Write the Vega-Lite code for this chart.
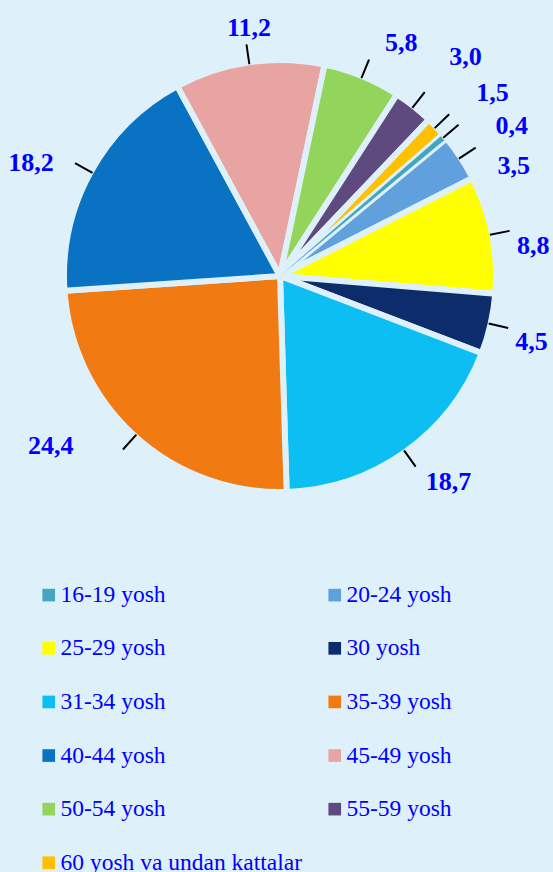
{
  "$schema": "https://vega.github.io/schema/vega-lite/v6.json",
  "width": 546,
  "height": 552,
  "autosize": {"type": "none"},
  "padding": {"left": 7, "top": 0, "right": 0, "bottom": 320},
  "background": "#DEF1FA",
  "config": {
    "view": {"stroke": null},
    "locale": {"number": {"decimal": ",", "thousands": " ", "grouping": [3], "currency": ["", ""]}}
  },
  "data": {
    "values": [
      {"group": "16-19 yosh", "value": 0.4},
      {"group": "20-24 yosh", "value": 3.5},
      {"group": "25-29 yosh", "value": 8.8},
      {"group": "30 yosh", "value": 4.5},
      {"group": "31-34 yosh", "value": 18.7},
      {"group": "35-39 yosh", "value": 24.4},
      {"group": "40-44 yosh", "value": 18.2},
      {"group": "45-49 yosh", "value": 11.2},
      {"group": "50-54 yosh", "value": 5.8},
      {"group": "55-59 yosh", "value": 3.0},
      {"group": "60 yosh va undan kattalar", "value": 1.5}
    ]
  },
  "encoding": {
    "theta": {"field": "value", "type": "quantitative", "stack": true, "scale": {"domain": [0, 100], "range": [0.8552, 7.1384]}},
    "order": {"field": "group", "type": "ordinal", "sort": "ascending"}
  },
  "layer": [
    {
      "mark": {"type": "arc", "radius": 216, "stroke": "#DEF1FA", "strokeWidth": 6},
      "encoding": {
        "color": {
          "field": "group", "type": "nominal",
          "scale": {
            "domain": ["16-19 yosh", "25-29 yosh", "31-34 yosh", "40-44 yosh", "50-54 yosh", "60 yosh va undan kattalar", "20-24 yosh", "30 yosh", "35-39 yosh", "45-49 yosh", "55-59 yosh"],
            "range": ["#45A5BE", "#FFFF00", "#0DBEF2", "#0A72C2", "#93D45A", "#FFC000", "#60A0DC", "#0C2C6B", "#F27A12", "#E8A3A3", "#5E4A7E"]
          },
          "legend": {
            "orient": "none", "legendX": 30, "legendY": 583, "columns": 2, "title": null,
            "symbolType": "square", "symbolSize": 160, "symbolStrokeWidth": 0, "symbolOpacity": 1,
            "labelFont": "Liberation Serif", "labelFontSize": 23.5, "labelColor": "#0000FF",
            "labelOffset": 0, "rowPadding": 28.6, "columnPadding": 21, "labelLimit": 400, "padding": 0
          }
        }
      }
    },
    {
      "mark": {"type": "arc", "radius": 213},
      "encoding": {
        "color": {"field": "group", "type": "nominal", "legend": null},
        "fillOpacity": {"condition": {"test": "datum.group === '16-19 yosh'", "value": 1}, "value": 0}
      }
    },
    {
      "mark": {"type": "arc", "radius": 234, "radius2": 214, "padAngle": 3, "filled": false, "stroke": "#000000", "strokeWidth": 2},
      "encoding": {}
    },
    {"mark": {"type": "text", "radius": 258, "dx": 35, "dy": 17, "font": "Liberation Serif", "fontSize": 26, "fontWeight": "bold", "fill": "#0000FF", "align": "center", "baseline": "middle"}, "encoding": {"text": {"condition": {"test": "datum.group === '16-19 yosh'", "field": "value", "type": "quantitative", "format": ".1f"}, "value": ""}}},
    {"mark": {"type": "text", "radius": 258, "dx": 18, "dy": 31, "font": "Liberation Serif", "fontSize": 26, "fontWeight": "bold", "fill": "#0000FF", "align": "center", "baseline": "middle"}, "encoding": {"text": {"condition": {"test": "datum.group === '20-24 yosh'", "field": "value", "type": "quantitative", "format": ".1f"}, "value": ""}}},
    {"mark": {"type": "text", "radius": 258, "dx": 0, "dy": 20, "font": "Liberation Serif", "fontSize": 26, "fontWeight": "bold", "fill": "#0000FF", "align": "center", "baseline": "middle"}, "encoding": {"text": {"condition": {"test": "datum.group === '25-29 yosh'", "field": "value", "type": "quantitative", "format": ".1f"}, "value": ""}}},
    {"mark": {"type": "text", "radius": 258, "dx": 0, "dy": 9, "font": "Liberation Serif", "fontSize": 26, "fontWeight": "bold", "fill": "#0000FF", "align": "center", "baseline": "middle"}, "encoding": {"text": {"condition": {"test": "datum.group === '30 yosh'", "field": "value", "type": "quantitative", "format": ".1f"}, "value": ""}}},
    {"mark": {"type": "text", "radius": 258, "dx": 19, "dy": -4, "font": "Liberation Serif", "fontSize": 26, "fontWeight": "bold", "fill": "#0000FF", "align": "center", "baseline": "middle"}, "encoding": {"text": {"condition": {"test": "datum.group === '31-34 yosh'", "field": "value", "type": "quantitative", "format": ".1f"}, "value": ""}}},
    {"mark": {"type": "text", "radius": 258, "dx": -56, "dy": -21, "font": "Liberation Serif", "fontSize": 26, "fontWeight": "bold", "fill": "#0000FF", "align": "center", "baseline": "middle"}, "encoding": {"text": {"condition": {"test": "datum.group === '35-39 yosh'", "field": "value", "type": "quantitative", "format": ".1f"}, "value": ""}}},
    {"mark": {"type": "text", "radius": 258, "dx": -23, "dy": 11, "font": "Liberation Serif", "fontSize": 26, "fontWeight": "bold", "fill": "#0000FF", "align": "center", "baseline": "middle"}, "encoding": {"text": {"condition": {"test": "datum.group === '40-44 yosh'", "field": "value", "type": "quantitative", "format": ".1f"}, "value": ""}}},
    {"mark": {"type": "text", "radius": 258, "dx": 6, "dy": 7, "font": "Liberation Serif", "fontSize": 26, "fontWeight": "bold", "fill": "#0000FF", "align": "center", "baseline": "middle"}, "encoding": {"text": {"condition": {"test": "datum.group === '45-49 yosh'", "field": "value", "type": "quantitative", "format": ".1f"}, "value": ""}}},
    {"mark": {"type": "text", "radius": 258, "dx": 23, "dy": 6, "font": "Liberation Serif", "fontSize": 26, "fontWeight": "bold", "fill": "#0000FF", "align": "center", "baseline": "middle"}, "encoding": {"text": {"condition": {"test": "datum.group === '50-54 yosh'", "field": "value", "type": "quantitative", "format": ".1f"}, "value": ""}}},
    {"mark": {"type": "text", "radius": 258, "dx": 26, "dy": -16, "font": "Liberation Serif", "fontSize": 26, "fontWeight": "bold", "fill": "#0000FF", "align": "center", "baseline": "middle"}, "encoding": {"text": {"condition": {"test": "datum.group === '55-59 yosh'", "field": "value", "type": "quantitative", "format": ".1f"}, "value": ""}}},
    {"mark": {"type": "text", "radius": 258, "dx": 26, "dy": -5, "font": "Liberation Serif", "fontSize": 26, "fontWeight": "bold", "fill": "#0000FF", "align": "center", "baseline": "middle"}, "encoding": {"text": {"condition": {"test": "datum.group === '60 yosh va undan kattalar'", "field": "value", "type": "quantitative", "format": ".1f"}, "value": ""}}}
  ]
}
